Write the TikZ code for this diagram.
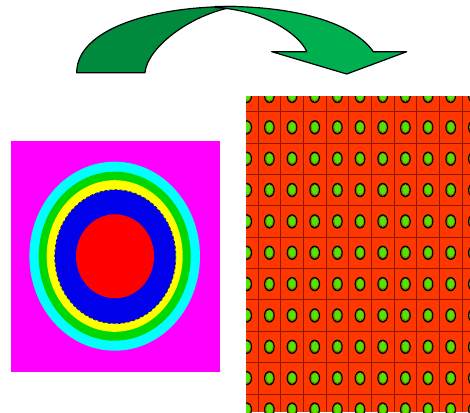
\documentclass[tikz,border=0pt]{standalone}
\definecolor{darkband}{RGB}{0,138,62}
\definecolor{lightband}{RGB}{0,176,80}
\definecolor{gridred}{RGB}{255,55,0}
\definecolor{gridline}{RGB}{140,25,0}
\definecolor{dotring}{RGB}{110,140,0}
\definecolor{dotgreen}{RGB}{85,228,0}
\definecolor{ringmag}{RGB}{255,0,255}
\definecolor{ringcyan}{RGB}{0,255,255}
\definecolor{ringgreen}{RGB}{0,215,0}
\definecolor{ringyellow}{RGB}{255,255,0}
\definecolor{ringblue}{RGB}{0,0,235}
\definecolor{ringred}{RGB}{255,0,0}
\begin{document}
\begin{tikzpicture}[x=1pt,y=-1pt,
  band/.style={draw=black,line width=1.2pt,line join=round},
  gridrule/.style={draw=gridline,line width=0.7pt},
  dotouter/.style={fill=black},
  dotmid/.style={fill=dotring},
  dotinner/.style={fill=dotgreen}]
\useasboundingbox (0,0) rectangle (470,412);
\fill[white] (0,0) rectangle (470,412);
% curved arrow
\draw[band,fill=darkband] (76.7,72.7) .. controls (76.7,30) and (150,6) .. (236,6.5)
  .. controls (190,14) and (147,48) .. (145,72.7) -- cycle;
\draw[band,fill=lightband] (215,6.5) .. controls (300,5) and (355,25) .. (373.3,51.7)
  -- (406.7,51.7) -- (346.7,74) -- (271.7,51.7) -- (306.7,51.7)
  .. controls (300,35) and (265,10) .. (215,7.5) -- cycle;
% left contour plot
\fill[ringmag] (11,141.3) rectangle (220,371.7);
\fill[ringcyan] (114.7,256.2) ellipse [x radius=85.3, y radius=94.5];
\fill[ringgreen] (114.7,256.2) ellipse [x radius=76, y radius=84.5];
\fill[ringyellow] (114.7,256.0) ellipse [x radius=68, y radius=75.8];
\fill[ringblue] (115.3,256.7) ellipse [x radius=60.3, y radius=66.7];
\draw[black!70!blue,line width=0.6pt,dash pattern=on 3pt off 2pt] (115.3,256.7) ellipse [x radius=60.6, y radius=67];
\fill[ringred] (115,256.3) ellipse [x radius=39, y radius=42];
% right grid
\begin{scope}
\clip (246,96) rectangle (470,412);
\fill[gridred] (246,96) rectangle (470,412);
\foreach \i in {0,...,9} {
  \draw[gridrule] (258+22.667*\i,96) -- (258+22.667*\i,412);
  \draw[gridrule] (246,111.7+31.35*\i) -- (470,111.7+31.35*\i);
}
\foreach \i in {0,...,10} {
  \foreach \j in {0,...,10} {
    \fill[dotouter] (246.7+22.667*\i,96+31.35*\j) ellipse [x radius=5.4, y radius=7.2];
    \fill[dotmid] (246.7+22.667*\i,96+31.35*\j) ellipse [x radius=4.2, y radius=5.9];
    \fill[dotinner] (246.9+22.667*\i,95.6+31.35*\j) ellipse [x radius=3.3, y radius=4.8];
  }
}
\end{scope}
\end{tikzpicture}
\end{document}
